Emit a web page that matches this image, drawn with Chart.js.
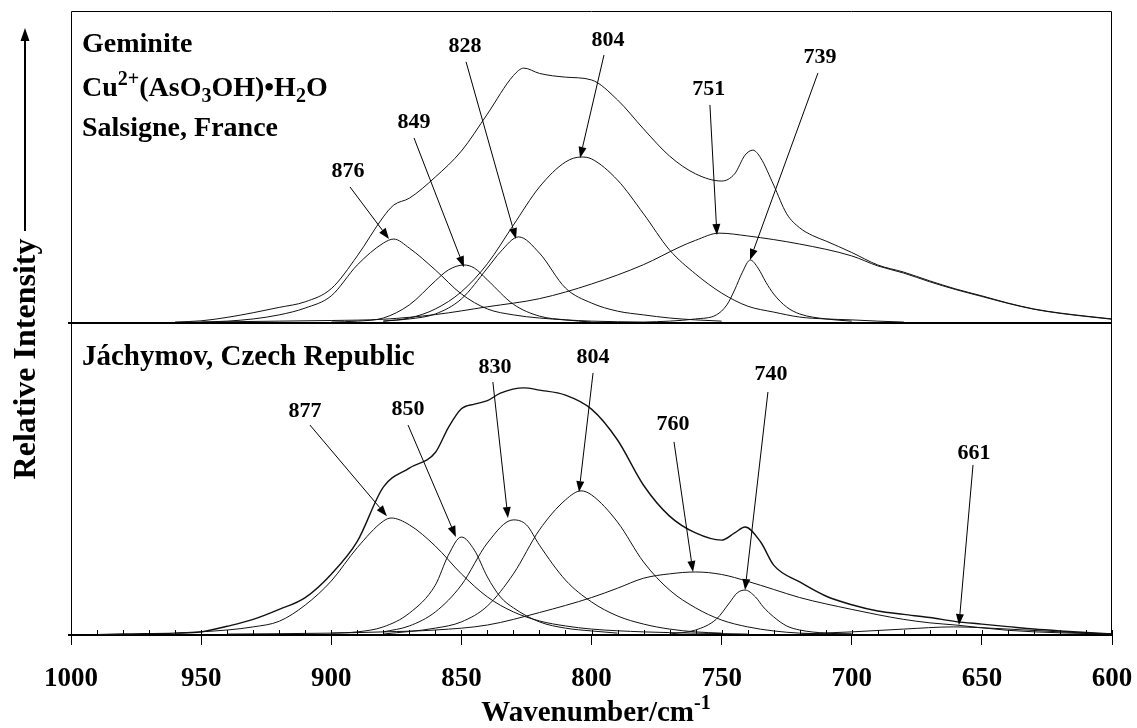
<!DOCTYPE html>
<html>
<head>
<meta charset="utf-8">
<script src="https://cdn.jsdelivr.net/npm/chart.js@4.4.0/dist/chart.umd.min.js"></script>
<style>
  html, body { margin: 0; padding: 0; background: #fff; }
</style>
</head>
<body>
<canvas id="chart" width="1137" height="728"></canvas>
<script>
// values: wavenumber (cm-1) and relative intensity (0-100 per panel)

// upper panel - geminite, Salsigne
const topEnvWn = [960, 950, 940, 930, 920, 910, 900, 890, 880, 876, 870, 860, 850, 840, 830, 826, 820, 810, 800, 790, 780, 770, 760, 750, 745, 741, 738, 735, 730, 725, 720, 715, 710, 700, 690, 680, 670, 660, 650, 640, 630, 620, 610, 600];
const topEnvI = [0.3, 0.7, 1.8, 3.3, 5.0, 6.8, 11, 21.5, 34, 37.8, 40, 46.8, 55.1, 67, 79.3, 81.7, 80, 78.8, 77.9, 71.5, 62.2, 53.5, 47.8, 45.5, 47.8, 53.8, 55.4, 52.9, 44.2, 35, 30.5, 28, 26.3, 22.6, 18.6, 16.3, 13.5, 10.9, 8.7, 6.4, 4.5, 3.2, 2.2, 1.3];
const top876Wn = [950, 940, 930, 920, 910, 900, 890, 880, 876, 870, 860, 850, 840, 830, 820, 800, 780];
const top876I = [0.3, 0.6, 1.3, 2.6, 4.8, 8.7, 18.6, 25.6, 26.9, 24, 17, 9.3, 4.5, 2.6, 1.6, 0.6, 0.3];
const top849Wn = [900, 890, 880, 870, 860, 855, 849, 845, 840, 830, 820, 810, 800];
const top849I = [0.3, 0.6, 1.6, 5.8, 13.5, 17, 18.6, 17.6, 13.8, 6, 2.2, 1, 0.3];
const top828Wn = [880, 870, 860, 850, 840, 835, 828, 820, 810, 800, 790, 780, 770, 760, 750];
const top828I = [0.6, 1.3, 2.9, 7.7, 17.6, 22.8, 27.6, 22.4, 11.2, 6.4, 3.8, 2.6, 1.6, 1, 0.6];
const top804Wn = [880, 870, 860, 850, 840, 830, 820, 810, 804, 800, 790, 780, 770, 760, 750, 740, 730, 720, 710, 700, 690, 680];
const top804I = [0.6, 1.6, 4.5, 10, 19, 31.4, 43.6, 51.6, 53.2, 52.6, 45.8, 35, 23.4, 15.7, 9.6, 5.4, 3.5, 1.9, 1.3, 1, 0.6, 0.3];
const top751Wn = [960, 940, 920, 900, 880, 860, 840, 820, 800, 780, 766, 760, 751, 740, 720, 700, 690, 680, 670, 660, 650, 640, 630, 620, 610, 600];
const top751I = [0.2, 0.4, 0.6, 0.8, 1.2, 2.7, 5.2, 7.8, 12.5, 18.7, 24.4, 26.5, 28.8, 27.9, 25.3, 21.5, 18.3, 16, 13.2, 10.7, 8.5, 6.3, 4.4, 3.1, 2.1, 1.2];
const top739Wn = [780, 770, 760, 752, 748, 745, 742, 739, 736, 733, 730, 725, 720, 710, 700];
const top739I = [0.3, 0.6, 1.3, 2.6, 5.8, 10.6, 16.3, 20.2, 17.6, 13.1, 9.3, 5.1, 2.9, 1.3, 0.6];

// lower panel - Jáchymov
const botEnvWn = [990, 980, 960, 950, 940, 930, 920, 910, 900, 890, 880, 870, 860, 855, 850, 845, 840, 835, 826, 820, 810, 800, 790, 780, 770, 760, 750, 745, 741, 735, 730, 720, 710, 700, 690, 680, 670, 660, 650, 640, 630, 620, 610, 600];
const botEnvI = [0.1, 0.3, 0.6, 1, 2.8, 5, 8.2, 12, 19.5, 30, 47.4, 53.5, 58.5, 66.5, 72.5, 74, 75.1, 77.5, 79.2, 78.5, 76.9, 72.4, 62.5, 48, 38.1, 32.7, 30.4, 32.7, 34.6, 29.8, 22.4, 17, 12.5, 9.7, 7.7, 6.6, 5.6, 4.3, 3.5, 2.7, 1.9, 1.3, 0.8, 0.3];
const bot877Wn = [960, 940, 930, 920, 910, 900, 890, 880, 877, 870, 860, 850, 840, 830, 820, 810, 800, 780, 760, 740];
const bot877I = [0.6, 1.6, 2.6, 4.4, 9.6, 17.3, 28, 36.5, 37.5, 35.3, 28.5, 19.6, 12.2, 7.4, 4.5, 2.9, 1.9, 1, 0.6, 0.3];
const bot850Wn = [900, 890, 880, 870, 860, 855, 850, 845, 840, 835, 830, 820, 810, 800, 790];
const bot850I = [0.6, 1, 2.6, 7, 16, 25.6, 31.4, 27.2, 18.6, 12.2, 8.7, 4.2, 2.2, 1.3, 0.6];
const bot830Wn = [880, 870, 860, 850, 840, 830, 825, 820, 810, 800, 790, 780, 770, 760, 750];
const bot830I = [1, 2.9, 7.4, 16, 29.5, 36.9, 35.3, 28.8, 17.6, 10.6, 6.1, 3.5, 1.9, 1, 0.6];
const bot804Wn = [880, 860, 850, 840, 830, 820, 810, 804, 800, 790, 780, 770, 760, 750, 740, 730, 720, 700];
const bot804I = [0.3, 2.2, 4.2, 9.3, 19.6, 33.7, 43.3, 46.2, 44.9, 36.2, 23.4, 14.4, 8.7, 4.8, 2.6, 1.3, 0.6, 0.3];
const bot760Wn = [940, 900, 880, 860, 840, 820, 800, 790, 780, 770, 760, 750, 740, 730, 720, 700, 690, 680, 670, 660, 640, 620, 600];
const bot760I = [0.3, 0.6, 1, 1.6, 3.2, 7.2, 12, 15, 18.2, 19.6, 20.2, 19.4, 17.2, 14.6, 12, 8.2, 6.5, 5, 3.9, 3.2, 1.5, 0.7, 0.3];
const bot740Wn = [770, 760, 752, 747, 744, 741, 737, 734, 730, 725, 720, 710, 700];
const bot740I = [0.3, 1.6, 5.1, 10.3, 13.5, 14.4, 12.2, 9, 5.8, 2.9, 1.6, 0.6, 0.3];
const bot661Wn = [720, 700, 680, 661, 640, 620, 600];
const bot661I = [0.3, 1, 1.9, 2.6, 1.9, 1, 0.3];

const xTicks = [1000, 950, 900, 850, 800, 750, 700, 650, 600];

// peak labels: text, label x/y (baseline), arrow start x/y, arrow tip x/y
const topLabels = [
  ['876', 893.6, 46.8, 892.8, 43.6, 877.8, 26.9],
  ['849', 868.2, 62.5, 868.2, 59.3, 849, 17.9],
  ['828', 848.6, 86.9, 848.2, 83.7, 829, 26.9],
  ['804', 793.7, 88.8, 795.2, 85.9, 804.4, 52.9],
  ['751', 754.9, 73.1, 754.5, 69.9, 751.8, 28.2],
  ['739', 712.2, 83.3, 713, 80.1, 739.1, 20.2]
];
const botLabels = [
  ['877', 910.1, 69.9, 908.2, 67.3, 878.6, 38.1],
  ['850', 870.5, 70.5, 870.5, 67.3, 852.1, 31.4],
  ['830', 837.1, 84, 837.9, 81.1, 832.1, 37.5],
  ['804', 799.4, 87.2, 799.4, 84, 804.8, 45.8],
  ['760', 768.7, 65.7, 768.3, 61.9, 761, 20.2],
  ['740', 731, 81.7, 732.2, 77.9, 741, 14.4],
  ['661', 653, 56.4, 653.4, 54.5, 658.8, 3.2]
];

const SERIF = '"Liberation Serif", "Times New Roman", serif';

function pts(wn, val) {
  return wn.map((w, i) => ({ x: w, y: val[i] }));
}

function band(wn, val, axis, width) {
  return {
    data: pts(wn, val),
    yAxisID: axis,
    borderColor: '#111',
    borderWidth: width || 1,
    pointRadius: 0,
    fill: false,
    cubicInterpolationMode: 'monotone'
  };
}

function richText(ctx, x, y, parts, size, align) {
  const small = Math.round(size * 0.7);
  let total = 0;
  parts.forEach(p => {
    ctx.font = 'bold ' + (p[1] === 'n' ? size : small) + 'px ' + SERIF;
    total += ctx.measureText(p[0]).width;
  });
  let cx = align === 'center' ? x - total / 2 : x;
  ctx.textAlign = 'left';
  parts.forEach(p => {
    ctx.font = 'bold ' + (p[1] === 'n' ? size : small) + 'px ' + SERIF;
    let dy = 0;
    if (p[1] === 'sup') dy = -size * 0.4;
    if (p[1] === 'sub') dy = size * 0.2;
    ctx.fillText(p[0], cx, y + dy);
    cx += ctx.measureText(p[0]).width;
  });
}

function arrow(ctx, x1, y1, x2, y2, len, half) {
  const ang = Math.atan2(y2 - y1, x2 - x1);
  const bx = x2 - Math.cos(ang) * len, by = y2 - Math.sin(ang) * len;
  ctx.beginPath();
  ctx.moveTo(x1, y1);
  ctx.lineTo(bx, by);
  ctx.stroke();
  ctx.beginPath();
  ctx.moveTo(x2, y2);
  ctx.lineTo(bx + Math.sin(ang) * half, by - Math.cos(ang) * half);
  ctx.lineTo(bx - Math.sin(ang) * half, by + Math.cos(ang) * half);
  ctx.closePath();
  ctx.fill();
}

const decor = {
  id: 'decor',
  afterDraw(chart) {
    const ctx = chart.ctx;
    const a = chart.chartArea;
    const xs = chart.scales.x, yT = chart.scales.yTop, yB = chart.scales.yBot;
    const mid = yT.getPixelForValue(0);
    ctx.save();
    ctx.strokeStyle = '#000';
    ctx.fillStyle = '#000';

    // frame
    ctx.lineWidth = 1;
    ctx.beginPath();
    ctx.moveTo(a.left + 0.5, a.bottom);
    ctx.lineTo(a.left + 0.5, a.top + 0.5);
    ctx.lineTo(a.right - 0.5, a.top + 0.5);
    ctx.lineTo(a.right - 0.5, a.bottom);
    ctx.stroke();
    ctx.lineWidth = 2;
    ctx.beginPath();
    ctx.moveTo(a.left - 3, mid);
    ctx.lineTo(a.right, mid);
    ctx.moveTo(a.left - 3, a.bottom);
    ctx.lineTo(a.left + 1, a.bottom);
    ctx.stroke();

    // minor ticks
    ctx.lineWidth = 1;
    ctx.beginPath();
    for (let w = 600; w <= 1000; w += 10) {
      const px = Math.round(xs.getPixelForValue(w)) + 0.5;
      ctx.moveTo(px, a.bottom);
      ctx.lineTo(px, a.bottom - 5);
    }
    ctx.stroke();

    // y title and arrow
    ctx.save();
    ctx.translate(a.left - 36, (a.top + a.bottom) / 2 + 36);
    ctx.rotate(-Math.PI / 2);
    ctx.font = 'bold 32px ' + SERIF;
    ctx.textAlign = 'center';
    ctx.textBaseline = 'alphabetic';
    ctx.fillText('Relative Intensity', 0, 0);
    ctx.restore();
    ctx.lineWidth = 2;
    arrow(ctx, a.left - 46, 231, a.left - 46, a.top + 17, 13, 4.5);

    // x title
    ctx.textBaseline = 'alphabetic';
    richText(ctx, 596, 721, [['Wavenumber/cm', 'n'], ['-1', 'sup']], 29, 'center');

    // panel captions
    const tx = a.left + 11;
    richText(ctx, tx, 52, [['Geminite', 'n']], 28, 'left');
    richText(ctx, tx, 96, [['Cu', 'n'], ['2+', 'sup'], ['(AsO', 'n'], ['3', 'sub'], ['OH)\u2022H', 'n'], ['2', 'sub'], ['O', 'n']], 28, 'left');
    richText(ctx, tx, 136, [['Salsigne, France', 'n']], 28, 'left');
    richText(ctx, tx, 365, [['J\u00e1chymov, Czech Republic', 'n']], 29, 'left');

    // peak labels with arrows
    ctx.lineWidth = 1;
    const drawLabels = (list, ys) => {
      list.forEach(l => {
        ctx.font = 'bold 22px ' + SERIF;
        ctx.textAlign = 'center';
        ctx.fillText(l[0], xs.getPixelForValue(l[1]), ys.getPixelForValue(l[2]));
        arrow(ctx, xs.getPixelForValue(l[3]), ys.getPixelForValue(l[4]),
          xs.getPixelForValue(l[5]), ys.getPixelForValue(l[6]), 11, 4);
      });
    };
    drawLabels(topLabels, yT);
    drawLabels(botLabels, yB);
    ctx.restore();
  }
};

new Chart(document.getElementById('chart'), {
  type: 'line',
  data: {
    datasets: [
      band(topEnvWn, topEnvI, 'yTop', 1),
      band(top876Wn, top876I, 'yTop'),
      band(top849Wn, top849I, 'yTop'),
      band(top828Wn, top828I, 'yTop'),
      band(top804Wn, top804I, 'yTop'),
      band(top751Wn, top751I, 'yTop'),
      band(top739Wn, top739I, 'yTop'),
      band(botEnvWn, botEnvI, 'yBot', 1.4),
      band(bot877Wn, bot877I, 'yBot'),
      band(bot850Wn, bot850I, 'yBot'),
      band(bot830Wn, bot830I, 'yBot'),
      band(bot804Wn, bot804I, 'yBot'),
      band(bot760Wn, bot760I, 'yBot'),
      band(bot740Wn, bot740I, 'yBot'),
      band(bot661Wn, bot661I, 'yBot')
    ]
  },
  options: {
    responsive: false,
    animation: false,
    layout: { padding: { left: 71, right: 25, top: 11, bottom: 35 } },
    plugins: { legend: { display: false }, tooltip: { enabled: false } },
    scales: {
      x: {
        type: 'linear',
        reverse: true,
        min: 600,
        max: 1000,
        afterBuildTicks: s => { s.ticks = xTicks.map(v => ({ value: v })); },
        afterFit: s => { s.height = 58; s.paddingLeft = 0; s.paddingRight = 0; },
        ticks: {
          color: '#000',
          font: { family: SERIF, weight: 'bold', size: 27 },
          padding: 18,
          maxRotation: 0,
          autoSkip: false,
          callback: v => String(v)
        },
        grid: { drawOnChartArea: false, drawTicks: true, tickLength: 10, color: '#000', lineWidth: 1 },
        border: { display: true, color: '#000', width: 2 }
      },
      // upper panel uses the top half: 0 sits on the middle line
      yTop: { type: 'linear', display: false, min: -100, max: 100 },
      // lower panel uses the bottom half
      yBot: { type: 'linear', display: false, min: 0, max: 200 }
    }
  },
  plugins: [decor]
});
</script>
</body>
</html>
